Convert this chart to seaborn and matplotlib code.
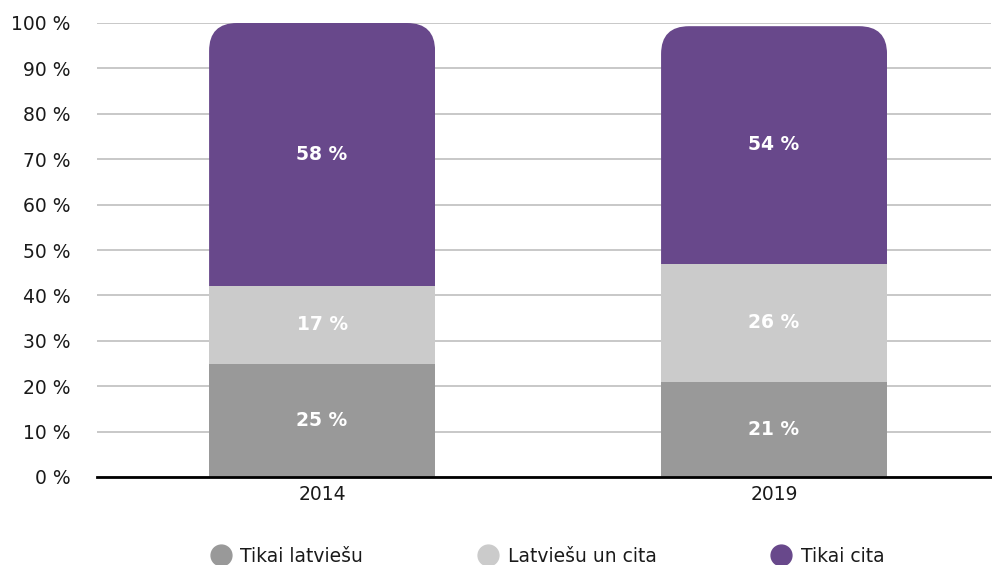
import numpy as np
import pandas as pd
import matplotlib.pyplot as plt
import seaborn as sns
from matplotlib.patches import FancyBboxPatch
from matplotlib.lines import Line2D

# Dati
gadi = ['2014', '2019']
tikai_latviesu = [25, 21]
latviesu_un_cita = [17, 26]
tikai_cita = [58, 52.3]
tikai_cita_teksts = ['58 %', '54 %']
serijas = ['Tikai latviešu', 'Latviešu un cita', 'Tikai cita']
krasas = ['#999999', '#cbcbcb', '#68488b']

sns.set_theme(style='white')
plt.rcParams['font.family'] = ['DejaVu Sans']

df = pd.DataFrame({'gads': gadi, 'a': tikai_latviesu, 'b': latviesu_un_cita, 'c': tikai_cita})
df['ab'] = df['a'] + df['b']
df['abc'] = df['ab'] + df['c']

fig = plt.figure(figsize=(9.92, 5.65), dpi=100)
ax = fig.add_axes([97/992, 88/565, 894/992, 454/565])

# kumulativie stabini no augšas uz leju
sns.barplot(data=df, x='gads', y='abc', color=krasas[2], width=0.5, saturation=1, ax=ax, zorder=2)
n_top = len(ax.patches)
sns.barplot(data=df, x='gads', y='ab', color=krasas[1], width=0.5, saturation=1, ax=ax, zorder=3)
sns.barplot(data=df, x='gads', y='a', color=krasas[0], width=0.5, saturation=1, ax=ax, zorder=4)

ax.set_xlim(-0.498, 1.48)
ax.set_ylim(0, 100)

# noapaļoti augšējie stūri
for p in ax.patches[:n_top]:
    p.set_linewidth(0)
    clip = FancyBboxPatch((p.get_x(), p.get_y()), p.get_width(), p.get_height(),
                          boxstyle='round,pad=0,rounding_size=0.062', mutation_aspect=99,
                          transform=ax.transData, facecolor='none', edgecolor='none')
    ax.add_patch(clip)
    clip.set_visible(False)
    p.set_clip_path(clip)
for p in ax.patches[n_top:]:
    p.set_linewidth(0)

fs = 13.5
# etiķetes
for i in range(len(gadi)):
    ax.text(i, tikai_latviesu[i] / 2, f'{tikai_latviesu[i]} %', ha='center', va='center',
            color='white', fontweight='bold', fontsize=fs, zorder=5)
    ax.text(i, tikai_latviesu[i] + latviesu_un_cita[i] / 2, f'{latviesu_un_cita[i]} %', ha='center',
            va='center', color='white', fontweight='bold', fontsize=fs, zorder=5)
    ax.text(i, tikai_latviesu[i] + latviesu_un_cita[i] + tikai_cita[i] / 2, tikai_cita_teksts[i],
            ha='center', va='center', color='white', fontweight='bold', fontsize=fs, zorder=5)

ax.set_yticks(np.arange(0, 101, 10))
ax.set_yticklabels([f'{v} %' for v in range(0, 101, 10)])
ax.yaxis.grid(True, color='#c4c4c4', linewidth=1.3, zorder=0)
ax.set_axisbelow(True)
ax.tick_params(axis='y', length=0, pad=19, labelsize=fs, colors='#1a1a1a')
ax.tick_params(axis='x', length=0, pad=6, labelsize=fs, colors='#1a1a1a')
ax.set_xlabel('')
ax.set_ylabel('')
for s in ['left', 'right', 'top']:
    ax.spines[s].set_visible(False)
ax.spines['bottom'].set_color('black')
ax.spines['bottom'].set_linewidth(2)
ax.spines['bottom'].set_zorder(6)

handles = [Line2D([], [], marker='o', linestyle='none', markersize=15, markerfacecolor=c,
                  markeredgecolor=c) for c in krasas]
fig.legend(handles, serijas, loc='center', bbox_to_anchor=(548/992, 1 - 556/565), ncol=3,
           frameon=False, fontsize=fs, columnspacing=6.15, handletextpad=0.55,
           handlelength=1.0, labelcolor='#1a1a1a')

fig.savefig('out.png', dpi=100)
